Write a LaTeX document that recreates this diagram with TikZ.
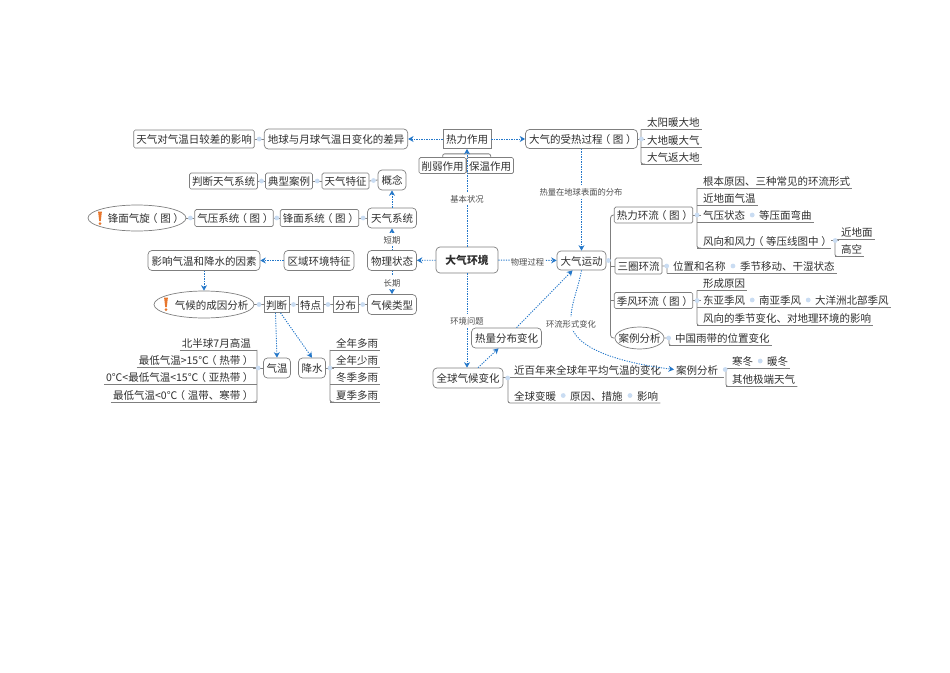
\documentclass[tikz,border=0pt]{standalone}
\usepackage{fontspec}
\setmainfont{Noto Sans CJK SC}
\newcommand{\kh}[1]{\kern-2.6pt（\kern2.6pt#1\kern2.6pt）\kern-2.6pt}
\usetikzlibrary{positioning, decorations.markings, arrows.meta, shapes.geometric}
\definecolor{flowblue}{HTML}{2477C9}
\definecolor{jointblue}{HTML}{C9DCF2}
\definecolor{linegray}{HTML}{7F7F7F}
\definecolor{inkgray}{HTML}{2E2E2E}
\definecolor{warnorange}{HTML}{E8772E}
\tikzset{
    every node/.style={font=\fontsize{10.5}{12}\selectfont, text=inkgray, text height=10, text depth=1},
    bx/.style={draw=linegray, line width=0.7, fill=white, rounded corners=1.5, inner xsep=2.5, inner ysep=0, minimum height=16},
    rbx/.style={draw=linegray, line width=0.7, fill=white, rounded corners=4, inner xsep=3.5, inner ysep=0, minimum height=20},
    sbx/.style={draw=linegray, line width=0.7, fill=white, inner xsep=3, inner ysep=0, minimum height=16},
    ovl/.style={draw=linegray, line width=0.7, fill=white, ellipse, inner sep=0},
    leaf/.style={inner xsep=2, inner ysep=0, minimum height=14.5, anchor=west},
    rleaf/.style={inner xsep=2, inner ysep=0, minimum height=14.5, anchor=east},
    lbl/.style={font=\fontsize{8.3}{10}\selectfont, fill=white, inner sep=1, text=inkgray!85},
    flow/.style={draw=flowblue, line width=0.9, dash pattern=on 1.2 off 1.3, -{Stealth[length=5.5,width=6]}},
    stem/.style={draw=linegray, line width=0.8},
    joint/.style={decoration={markings, mark=at position 0.5 with {\fill[jointblue] circle (2.4);}}, postaction={decorate}},
    warnicon/.pic={
        \fill[warnorange] (-1.9,-6.5) -- (1.9,-6.5) -- (0.8,3) -- (-0.8,3) -- cycle;
        \fill[warnorange] (0,5.5) circle (1.5);
    }
}
\begin{document}
\begin{tikzpicture}[x=1pt,y=-1pt]
    \useasboundingbox (0,0) rectangle (950,672);
    % centre and top row
    \node[rbx, minimum width=62, minimum height=26, font=\fontsize{10.8}{12}\bfseries] (huanjing) at (467,260) {大气环境};
    \node[sbx, minimum height=19] (reli) at (467,139) {热力作用};
    \node[rbx, minimum height=19] (shouRe) at (581.5,139) {大气的受热过程\kh{图}};
    \node[rbx, minimum height=20] (diqiu) at (336,139) {地球与月球气温日变化的差异};
    \node[bx, minimum height=18] (riCha) at (194,139) {天气对气温日较差的影响};
    \draw[stem, fill=white, rounded corners=2] (reli.south west) ++(0,5) rectangle ++(48,12) coordinate (behind);
    \node[bx] (xueruo) at (442.5,165.5) {削弱作用};
    \node[bx] (baowen) at (490,165.5) {保温作用};
    % left side rows
    \node[bx] (panTian) at (223.5,181) {判断天气系统};
    \node[bx] (dianxing) at (289,181) {典型案例};
    \node[bx] (tezheng) at (345.5,181) {天气特征};
    \node[rbx] (gainian) at (392,180) {概念};
    \node[ovl, minimum width=98, minimum height=26] (fengmian) at (137,218) {\makebox[0pt]{\hspace*{15pt}锋面气旋\kh{图}}};
    \node[bx, minimum height=17] (qiya) at (234,218) {气压系统\kh{图}};
    \node[bx, minimum height=17] (fengxi) at (319.5,218) {锋面系统\kh{图}};
    \node[rbx] (tianqi) at (392,218) {天气系统};
    \node[rbx] (yingxiang) at (204,260.5) {影响气温和降水的因素};
    \node[rbx] (quyu) at (319,260.5) {区域环境特征};
    \node[rbx] (wuli) at (392,260.5) {物理状态};
    \node[ovl, minimum width=100, minimum height=27] (chengyin) at (204,304.5) {\makebox[0pt]{\hspace*{15pt}气候的成因分析}};
    \node[sbx, inner xsep=2] (panduan) at (276.5,304.5) {判断};
    \node[sbx, inner xsep=2] (tedian) at (310.5,304.5) {特点};
    \node[sbx, inner xsep=2] (fenbu) at (345.5,304.5) {分布};
    \node[rbx] (leixing) at (392,304.5) {气候类型};
    \pic at (100,218) {warnicon};
    \pic at (166,304) {warnicon};
    \node[rbx, inner xsep=3] (qiwen) at (277,368) {气温};
    \node[rbx, inner xsep=3] (jiangshui) at (312,368) {降水};
    \node[rleaf] (gaowen) at (253,342.5) {北半球7月高温};
    \node[rleaf] (redai) at (253,359.5) {最低气温>15℃\kh{热带}};
    \node[rleaf] (yare) at (253,377) {0℃<最低气温<15℃\kh{亚热带}};
    \node[rleaf] (wendai) at (253,394.5) {最低气温<0℃\kh{温带、寒带}};
    \node[leaf] (duoyu) at (334,342.5) {全年多雨};
    \node[leaf] (shaoyu) at (334,359.5) {全年少雨};
    \node[leaf] (dongyu) at (334,377) {冬季多雨};
    \node[leaf] (xiayu) at (334,394.5) {夏季多雨};
    \foreach \n in {gaowen,redai,yare,wendai}
    {
        \draw[stem] (\n.south west) -- ([xshift=4]\n.south east);
    }
    \foreach \n in {duoyu,shaoyu,dongyu,xiayu}
    {
        \draw[stem] ([xshift=-4]\n.south west) -- (\n.south east);
    }
    \draw[stem, rounded corners=2] ([xshift=4]gaowen.south east) -- ([xshift=4]wendai.south east) -- (wendai.south east);
    \draw[stem, rounded corners=2] ([xshift=-4]duoyu.south west) -- ([xshift=-4]xiayu.south west) -- (xiayu.south west);
    % climate change group
    \node[rbx] (quanqiu) at (468,378) {全球气候变化};
    \node[rbx] (reliang) at (506.5,338) {热量分布变化};
    \node[leaf] (jinbai) at (512,369.5) {近百年来全球年平均气温的变化};
    \node[leaf] (anliB) at (674,369.5) {案例分析};
    \node[leaf] (handong) at (730,361) {寒冬};
    \node[leaf] (nuandong) at (765,361) {暖冬};
    \node[leaf] (jiduan) at (730,379) {其他极端天气};
    \node[leaf] (biannuan) at (512,395.5) {全球变暖};
    \node[leaf] (cuoshi) at (568,395.5) {原因、措施};
    \node[leaf] (yingX) at (635,395.5) {影响};
    \draw[stem] (quanqiu.east |- jinbai.south) -- (anliB.south east) -- ([xshift=4]anliB.south east);
    \draw[stem] ([xshift=-4]handong.south west) -- (nuandong.south east);
    \draw[stem, rounded corners=2] ([xshift=-4]handong.south west) -- ([xshift=-4]jiduan.south west) -- (jiduan.south east);
    \draw[stem, rounded corners=2] (biannuan.west |- jinbai.south) ++(-4,0) coordinate (bianTop) -- (bianTop |- biannuan.south) -- (yingX.south east);
    % right side tree
    \node[rbx, minimum height=19] (yundong) at (581.5,260.5) {大气运动};
    \coordinate (spine) at (610.5,260.5);
    \node[bx] (rexi) at (653.5,215) {热力环流\kh{图}};
    \node[bx] (sanquan) at (638.5,266) {三圈环流};
    \node[bx] (jifeng) at (653.5,300.5) {季风环流\kh{图}};
    \node[ovl, minimum width=49, minimum height=22] (anliA) at (639.5,338) {\makebox[0pt]{案例分析}};
    \draw[stem, rounded corners=3] (rexi.west) -- (spine |- rexi.west) -- (spine |- anliA.west) -- (anliA.west);
    \draw[stem] (sanquan.west) -- (spine |- sanquan.west);
    \draw[stem] (jifeng.west) -- (spine |- jifeng.west);
    \node[leaf] (taiyang) at (645,122) {太阳暖大地};
    \node[leaf] (dadi) at (645,139.5) {大地暖大气};
    \node[leaf] (fanhui) at (645,156.5) {大气返大地};
    \node[leaf] (genben) at (701,181) {根本原因、三种常见的环流形式};
    \node[leaf] (jindi) at (701,198) {近地面气温};
    \node[leaf] (qiyaZt) at (701,215) {气压状态};
    \node[leaf] (wanqu) at (757,215) {等压面弯曲};
    \node[leaf] (fengli) at (701,240.5) {风向和风力\kh{等压线图中}};
    \node[leaf] (jinmian) at (839,232) {近地面};
    \node[leaf] (gaokong) at (839,249) {高空};
    \node[leaf] (weizhi) at (671,266) {位置和名称};
    \node[leaf] (yidong) at (738,266) {季节移动、干湿状态};
    \node[leaf] (xingcheng) at (701,283) {形成原因};
    \node[leaf] (dongya) at (701,300) {东亚季风};
    \node[leaf] (nanya) at (757,300) {南亚季风};
    \node[leaf] (dayang) at (813,300) {大洋洲北部季风};
    \node[leaf] (fengxiang) at (701,318) {风向的季节变化、对地理环境的影响};
    \node[leaf] (yudai) at (673,338) {中国雨带的位置变化};
    \foreach \n in {taiyang,dadi,fanhui,genben,jindi,fengli,jinmian,gaokong,xingcheng,fengxiang,yudai,jiduan}
    {
        \draw[stem] ([xshift=-4]\n.south west) -- (\n.south east);
    }
    \draw[stem] ([xshift=-4]qiyaZt.south west) -- (wanqu.south east);
    \draw[stem] ([xshift=-4]weizhi.south west) -- (yidong.south east);
    \draw[stem] ([xshift=-4]dongya.south west) -- (dayang.south east);
    \draw[stem, rounded corners=2] ([xshift=-4]taiyang.south west) -- ([xshift=-4]fanhui.south west) -- (fanhui.south west);
    \draw[stem, rounded corners=2] ([xshift=-4]genben.south west) -- ([xshift=-4]fengli.south west) -- (fengli.south west);
    \draw[stem, rounded corners=2] ([xshift=-4]jinmian.south west) -- ([xshift=-4]gaokong.south west) -- (gaokong.south west);
    \draw[stem, rounded corners=2] ([xshift=-4]xingcheng.south west) -- ([xshift=-4]fengxiang.south west) -- (fengxiang.south west);
    \draw[stem, rounded corners=2] (sanquan.east) -- ([xshift=-4]weizhi.west) -- ([xshift=-4]weizhi.south west);
    \draw[stem, rounded corners=2] (anliA.east) -- ([xshift=-4]yudai.west) -- ([xshift=-4]yudai.south west) -- (yudai.south west);
    % grey links with a pale dot
    \foreach \a/\b in {riCha/diqiu,panTian/dianxing,dianxing/tezheng,tezheng/gainian,fengmian/qiya,qiya/fengxi,fengxi/tianqi,chengyin/panduan,panduan/tedian,tedian/fenbu,fenbu/leixing}
    {
        \draw[stem, joint] (\a.east) -- (\b.west);
    }
    \draw[stem, joint] (shouRe.east) -- (shouRe.east -| taiyang.west);
    \draw[stem, joint] (qiwen.west) -- (qiwen.west -| redai.east);
    \draw[stem, joint] (jiangshui.east) -- (jiangshui.east -| duoyu.west);
    \draw[stem, joint] (yundong.east) -- (spine);
    \draw[stem, joint] (rexi.east) -- (rexi.east -| qiyaZt.west);
    \draw[stem, joint] (jifeng.east) -- (jifeng.east -| dongya.west);
    \draw[stem, joint] (fengli.east) -- (fengli.east -| gaokong.west);
    \foreach \a/\b in {qiyaZt/wanqu,weizhi/yidong,dongya/nanya,nanya/dayang,handong/nuandong,biannuan/cuoshi,cuoshi/yingX}
    {
        \path[joint] (\a.east) -- (\b.west);
    }
    \path[joint] (quanqiu.east) -- (jinbai.west |- quanqiu.east);
    \path[joint] (anliB.east) -- (anliB.east -| handong.west);
    \path[joint] (sanquan.east) -- (sanquan.east -| weizhi.west);
    \path[joint] (anliA.east) -- (anliA.east -| yudai.west);
    % blue dotted connectors
    \draw[flow] (huanjing) -- (reli);
    \draw[flow] (huanjing) -- (wuli);
    \draw[flow] (huanjing) -- (yundong);
    \draw[flow] (huanjing) -- (quanqiu.north -| huanjing);
    \draw[flow] (reli) -- (diqiu);
    \draw[flow] (reli) -- (shouRe);
    \draw[flow] (shouRe) -- (yundong);
    \draw[flow] (wuli) -- (tianqi);
    \draw[flow] (tianqi) -- (gainian);
    \draw[flow] (wuli) -- (leixing);
    \draw[flow] (quyu) -- (yingxiang);
    \draw[flow] (yingxiang) -- (chengyin);
    \draw[flow] ([xshift=-1]panduan.south) -- (qiwen.north);
    \draw[flow] ([xshift=4]panduan.south) -- (jiangshui.north);
    \draw[flow] ([xshift=10]quanqiu.north) -- ([xshift=-8]reliang.south);
    \draw[flow] ([xshift=10]reliang.north) -- ([xshift=-9]yundong.south);
    \draw[flow] (yundong.south) .. controls (578,290) and (570,305) .. (571,323) .. controls (573,347) and (615,362) .. (anliB.west);
    % connector labels
    \node[lbl] (jiben) at (467,198) {基本状况};
    \node[lbl] (duanqi) at (392,239) {短期};
    \node[lbl] (changqi) at (392,282) {长期};
    \node[lbl] (guocheng) at (527.5,260.5) {物理过程};
    \node[lbl] (fenbuLbl) at (581,191) {热量在地球表面的分布};
    \node[lbl] (wenti) at (467,320) {环境问题};
    \node[lbl] (xingshi) at (571,323) {环流形式变化};
\end{tikzpicture}
\end{document}
